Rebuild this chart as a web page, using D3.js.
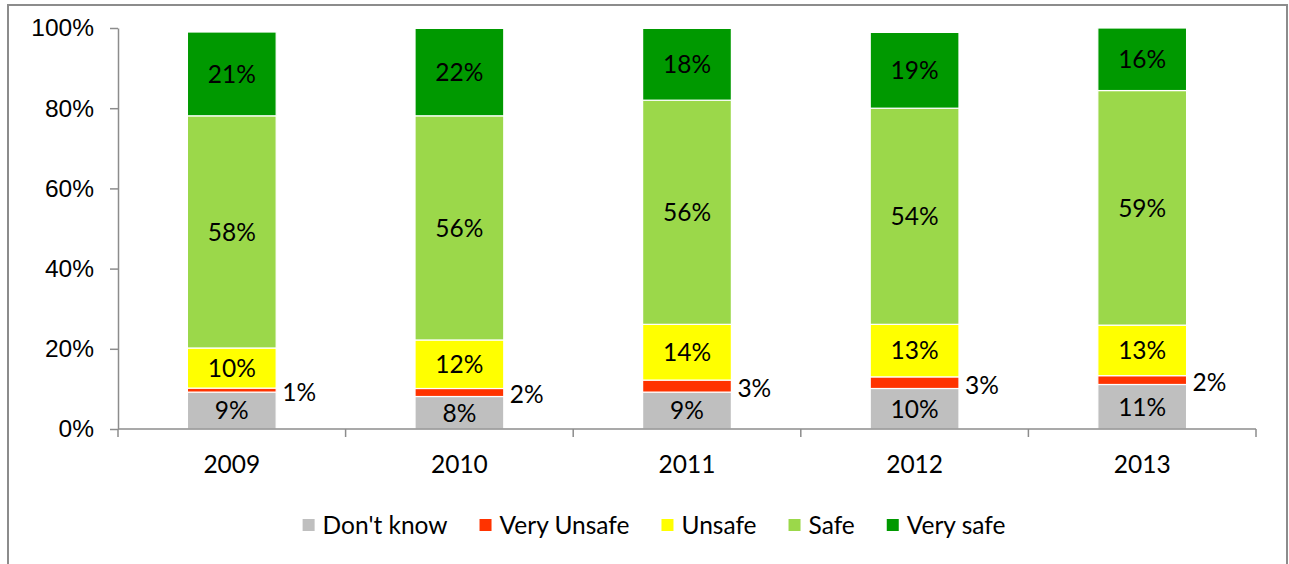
<!DOCTYPE html>
<html>
<head>
<meta charset="utf-8">
<script src="https://cdn.jsdelivr.net/npm/d3@7"></script>
<style>
  body { margin: 0; background: #fff; }
  svg { display: block; font-family: Lato, "Open Sans", sans-serif; }
</style>
</head>
<body>
<div class="chart"></div>
<script>
// categories and series (percent)
var years = ["2009", "2010", "2011", "2012", "2013"];
var seriesNames = ["Don't know", "Very Unsafe", "Unsafe", "Safe", "Very safe"];
var dontKnow   = [9.2, 8.1, 9.2, 10.1, 11.1];
var veryUnsafe = [1.0, 2.0, 3.0, 2.9, 2.2];
var unsafe     = [10.0, 12.1, 13.9, 13.1, 12.6];
var safe       = [57.9, 55.9, 55.9, 53.9, 58.5];
var verySafe   = [20.9, 21.8, 17.9, 18.9, 15.6];
var yTicks = [0, 20, 40, 60, 80, 100];

var palette = ["#bfbfbf", "#ff3300", "#ffff00", "#9bd84a", "#009900"];

var W = 1289, H = 564;
var plot = { left: 118, right: 1256, top: 28, bottom: 429 };
var fs = 24.5;

var data = years.map(function (yr, i) {
    return {
        year: yr,
        "Don't know": dontKnow[i],
        "Very Unsafe": veryUnsafe[i],
        "Unsafe": unsafe[i],
        "Safe": safe[i],
        "Very safe": verySafe[i]
    };
});

var stack = d3.stack().keys(seriesNames);
var layers = stack(data);

var x = d3.scaleBand()
    .domain(years)
    .range([plot.left, plot.right])
    .padding(0);

var barW = x.bandwidth() * 0.39;

var y = d3.scaleLinear()
    .domain([0, 100])
    .range([plot.bottom, plot.top]);

var color = d3.scaleOrdinal().domain(seriesNames).range(palette);

var svg = d3.select(".chart")
    .append("svg")
    .attr("width", W)
    .attr("height", H);

svg.append("rect").attr("width", W).attr("height", H).attr("fill", "#fff");

// outer frame
svg.append("rect")
    .attr("x", 8).attr("y", 5)
    .attr("width", 1279).attr("height", 600)
    .attr("fill", "none")
    .attr("stroke", "#8c8c8c")
    .attr("stroke-width", 2);

// bars
var groups = svg.selectAll(".layer")
    .data(layers)
    .enter().append("g")
    .attr("class", "layer")
    .attr("fill", function (d) { return color(d.key); });

groups.selectAll("rect")
    .data(function (d) { return d; })
    .enter().append("rect")
    .attr("x", function (d) { return x(d.data.year) + (x.bandwidth() - barW) / 2; })
    .attr("y", function (d) { return y(d[1]); })
    .attr("width", barW)
    .attr("height", function (d) { return y(d[0]) - y(d[1]); })
    .attr("stroke", "#fff")
    .attr("stroke-width", 1.2);

// value labels
layers.forEach(function (layer) {
    var outside = layer.key === "Very Unsafe";
    svg.append("g")
        .selectAll("text")
        .data(layer)
        .enter().append("text")
        .attr("x", function (d) {
            var cx = x(d.data.year) + x.bandwidth() / 2;
            return outside ? cx + barW / 2 + 6 : cx;
        })
        .attr("y", function (d) { return (y(d[0]) + y(d[1])) / 2 + (outside ? 2 : 0); })
        .attr("dy", "0.36em")
        .attr("text-anchor", outside ? "start" : "middle")
        .attr("font-size", fs)
        .attr("fill", "#000")
        .text(function (d) { return Math.round(d[1] - d[0]) + "%"; });
});

// y axis
var yAxis = svg.append("g")
    .attr("transform", "translate(" + plot.left + ",0)")
    .call(d3.axisLeft(y)
        .tickValues(yTicks)
        .tickFormat(function (d) { return d + "%"; })
        .tickSize(8)
        .tickSizeOuter(0)
        .tickPadding(16));
yAxis.selectAll("line, path").attr("stroke", "#8c8c8c").attr("stroke-width", 1.5);
yAxis.selectAll("text").attr("font-size", fs).attr("fill", "#000").attr("font-family", null);

// x axis (ticks between categories)
var xAxis = svg.append("g");
xAxis.append("line")
    .attr("x1", plot.left).attr("x2", plot.right)
    .attr("y1", plot.bottom).attr("y2", plot.bottom)
    .attr("stroke", "#8c8c8c").attr("stroke-width", 1.5);
var bounds = years.map(function (d) { return x(d); }).concat([plot.right]);
xAxis.selectAll(".tk")
    .data(bounds)
    .enter().append("line")
    .attr("x1", function (d) { return d; }).attr("x2", function (d) { return d; })
    .attr("y1", plot.bottom).attr("y2", plot.bottom + 8)
    .attr("stroke", "#8c8c8c").attr("stroke-width", 1.5);
xAxis.selectAll(".lbl")
    .data(years)
    .enter().append("text")
    .attr("x", function (d) { return x(d) + x.bandwidth() / 2; })
    .attr("y", 464)
    .attr("dy", "0.36em")
    .attr("text-anchor", "middle")
    .attr("font-size", fs)
    .text(function (d) { return d; });

// legend
var legend = svg.append("g");
var lx = 0;
seriesNames.forEach(function (name) {
    var g = legend.append("g").attr("transform", "translate(" + lx + ",0)");
    g.append("rect").attr("x", 0).attr("y", -6).attr("width", 12).attr("height", 12)
        .attr("fill", color(name));
    var t = g.append("text").attr("x", 20).attr("y", 0).attr("dy", "0.36em")
        .attr("font-size", fs).text(name);
    lx += 20 + t.node().getComputedTextLength() + 32;
});
lx -= 32;
legend.attr("transform", "translate(" + (654 - lx / 2) + ",525)");
</script>
</body>
</html>
